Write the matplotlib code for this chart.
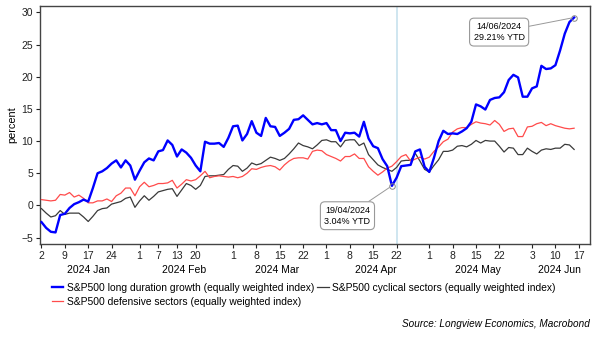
import matplotlib
matplotlib.use('Agg')
import matplotlib.pyplot as plt
import matplotlib.transforms as mtransforms
import pandas as pd

plt.rcParams['font.family'] = ['Liberation Sans', 'DejaVu Sans']

# US trading days, Jan 2 - Jun 14 2024 (115 obs), axis runs a bit past the end
holidays = ['2024-01-01', '2024-01-15', '2024-02-19', '2024-03-29', '2024-05-27', '2024-06-19']
days = pd.bdate_range('2024-01-02', '2024-06-21', freq='C', holidays=holidays)

# YTD % change, one value per trading day (grouped by week)
growth = [-2.6, -3.5, -4.1, -4.2,
          -1.5, -1.3, -0.4, 0.2, 0.5,
          0.9, 0.6, 2.7, 5.0,
          5.3, 5.8, 6.5, 7.0, 5.9,
          7.0, 6.2, 4.0, 5.4, 6.7,
          7.3, 7.0, 8.4, 8.6, 10.1,
          9.4, 7.6, 8.7, 8.2, 7.4,
          6.2, 5.3, 9.9, 9.6,
          9.6, 9.7, 9.1, 10.5, 12.3,
          12.4, 10.1, 11.1, 13.1, 11.3,
          10.8, 13.6, 12.3, 12.2, 10.8,
          11.3, 11.9, 13.3, 13.4, 14.0,
          13.3, 12.6, 12.8, 12.6,
          12.8, 11.7, 11.7, 10.0, 11.3,
          11.2, 11.3, 10.7, 13.0, 10.4,
          9.2, 8.9, 7.2, 6.1, 3.04,
          4.3, 6.1, 6.2, 6.3, 8.4,
          8.7, 6.0, 5.2, 7.4, 10.0,
          11.6, 11.1, 11.2, 11.1, 11.5,
          12.0, 13.0, 15.7, 15.4, 14.9,
          16.4, 16.7, 16.8, 17.6, 19.5,
          20.3, 19.9, 16.9, 16.9,
          18.2, 18.5, 21.7, 21.2, 21.3,
          21.8, 24.1, 26.7, 28.5, 29.21]

cyclical = [-0.5, -1.2, -1.8, -1.6,
            -0.8, -1.4, -1.2, -1.2, -1.2,
            -1.8, -2.5, -1.7, -0.8,
            -0.5, -0.4, 0.2, 0.4, 0.6,
            1.1, 1.3, -0.3, 0.7, 1.5,
            0.8, 1.4, 2.1, 2.3, 2.5,
            2.6, 1.4, 2.4, 3.4, 3.1,
            2.5, 3.1, 4.5, 4.6,
            4.6, 4.7, 4.8, 5.6, 6.2,
            6.1, 5.3, 5.8, 6.6, 6.3,
            6.5, 7.0, 7.5, 7.3, 7.0,
            7.3, 8.0, 8.8, 9.7, 9.3,
            9.1, 8.8, 9.4, 10.1,
            10.2, 9.9, 9.9, 9.1, 10.1,
            10.2, 10.2, 9.3, 9.7, 7.9,
            7.1, 6.3, 5.9, 5.6, 5.3,
            5.9, 6.9, 7.0, 7.0, 8.1,
            6.9, 5.6, 5.2, 6.2, 7.1,
            8.4, 8.4, 8.6, 9.2, 9.3,
            9.1, 9.5, 10.1, 9.7, 10.1,
            10.0, 10.0, 9.2, 8.3, 9.0,
            8.9, 7.9, 7.9, 8.9,
            8.4, 8.0, 8.6, 8.8, 8.7,
            8.9, 8.9, 9.5, 9.4, 8.7]

defensive = [0.9, 0.8, 0.7, 0.8,
             1.7, 1.6, 2.0, 1.3, 1.6,
             1.1, 0.4, 0.4, 0.7,
             0.7, 1.0, 0.6, 1.5, 1.9,
             2.7, 2.7, 1.5, 2.9, 3.6,
             2.9, 3.1, 3.4, 3.4, 3.5,
             3.9, 2.7, 3.3, 4.0, 3.8,
             4.0, 4.6, 5.3, 4.3,
             4.5, 4.6, 4.5, 4.4, 4.5,
             4.3, 4.5, 5.0, 5.7, 5.6,
             5.9, 6.1, 6.2, 6.0, 5.5,
             6.3, 6.9, 7.3, 7.4, 7.4,
             7.2, 8.4, 8.6, 8.5,
             7.9, 7.6, 7.3, 6.9, 7.6,
             7.6, 8.0, 7.3, 7.3, 6.0,
             5.3, 4.7, 5.2, 5.8, 6.1,
             6.8, 7.6, 7.9, 6.9, 7.2,
             7.5, 7.2, 7.5, 8.4, 9.1,
             9.9, 10.3, 11.4, 11.9, 12.1,
             12.1, 12.6, 13.0, 12.8, 12.7,
             12.5, 13.2, 12.6, 11.5, 11.9,
             12.0, 10.7, 10.7, 12.2,
             12.3, 12.7, 12.9, 12.4, 12.7,
             12.4, 12.2, 12.0, 11.9, 12.0]

tick_dates = ['2024-01-02', '2024-01-09', '2024-01-17', '2024-01-24',
              '2024-02-01', '2024-02-07', '2024-02-13', '2024-02-20',
              '2024-03-01', '2024-03-08', '2024-03-15', '2024-03-22',
              '2024-04-01', '2024-04-08', '2024-04-15', '2024-04-22',
              '2024-05-01', '2024-05-08', '2024-05-15', '2024-05-22',
              '2024-06-03', '2024-06-10', '2024-06-17']
months = ['Jan', 'Feb', 'Mar', 'Apr', 'May', 'Jun']
marker_date = '2024-04-22'

labels = ['S&P500 long duration growth (equally weighted index)',
          'S&P500 cyclical sectors (equally weighted index)',
          'S&P500 defensive sectors (equally weighted index)']

x = list(range(len(growth)))
xmin, xmax = -0.32, 117.4

fig = plt.figure(figsize=(6.02, 3.38), dpi=100)
ax = fig.add_axes([40 / 602, 1 - 244 / 338, 550 / 602, 238 / 338])

ax.axvline(days.get_loc(pd.Timestamp(marker_date)), color='#cce4ef', lw=1.3, zorder=1)

l_blk, = ax.plot(x, cyclical, color='#3a3a3a', lw=0.9, label=labels[1], zorder=3)
l_red, = ax.plot(x, defensive, color='#ff4b4b', lw=0.9, label=labels[2], zorder=3)
l_blu, = ax.plot(x, growth, color='#0000ff', lw=1.7, label=labels[0], zorder=4)

ax.set_xlim(xmin, xmax)
ax.set_ylim(-6, 31)
ax.set_yticks(range(-5, 31, 5))
ax.set_ylabel('percent', fontsize=7.8, labelpad=3)

tpos = days.get_indexer(pd.to_datetime(tick_dates))
ax.set_xticks(tpos)
ax.set_xticklabels([str(pd.Timestamp(d).day) for d in tick_dates])

# month labels under the day ticks
trans = mtransforms.blended_transform_factory(ax.transData, ax.transAxes)
for m in months:
    idx = [i for i, d in enumerate(days) if d.strftime('%b') == m]
    lo = max(idx[0] - 0.5, xmin)
    hi = min(idx[-1] + 0.5, xmax)
    ax.text((lo + hi) / 2, -0.09, '2024 ' + m, transform=trans,
            ha='center', va='top', fontsize=7.5)

ax.tick_params(axis='both', labelsize=7.5, length=3, width=0.8, colors='#222222', pad=2)
for s in ax.spines.values():
    s.set_color('#444444')
    s.set_linewidth(1.0)

# call-outs
box = dict(boxstyle='round,pad=0.45,rounding_size=0.5', fc='white', ec='#999999', lw=0.8)
arrow = dict(arrowstyle='-', color='#999999', lw=0.7, shrinkA=0, shrinkB=2)
i_low = days.get_loc(pd.Timestamp('2024-04-19'))
i_end = len(growth) - 1
for i, off in [(i_low, (-32, -21.5)), (i_end, (-54, -10.5))]:
    ax.plot(i, growth[i], 'o', mfc='none', mec='#888888', ms=4, mew=0.7, zorder=6)
    txt = '%s\n%.2f%% YTD' % (days[i].strftime('%d/%m/%Y'), growth[i])
    ax.annotate(txt, xy=(i, growth[i]), xytext=off, textcoords='offset points',
                ha='center', va='center', fontsize=6.5, linespacing=1.25,
                bbox=box, arrowprops=arrow, zorder=7)

fig.legend(handles=[l_blu, l_red, l_blk], labels=[labels[0], labels[2], labels[1]],
           ncol=2, loc='upper left', bbox_to_anchor=(52 / 602, 1 - 283 / 338),
           frameon=False, fontsize=7.4, handlelength=1.1, handletextpad=0.35,
           columnspacing=0.3, labelspacing=0.35, borderpad=0, borderaxespad=0)

fig.text(590 / 602, 1 - 324 / 338, 'Source: Longview Economics, Macrobond',
         ha='right', va='center', style='italic', fontsize=7.2)

fig.savefig('out.png', dpi=100)
